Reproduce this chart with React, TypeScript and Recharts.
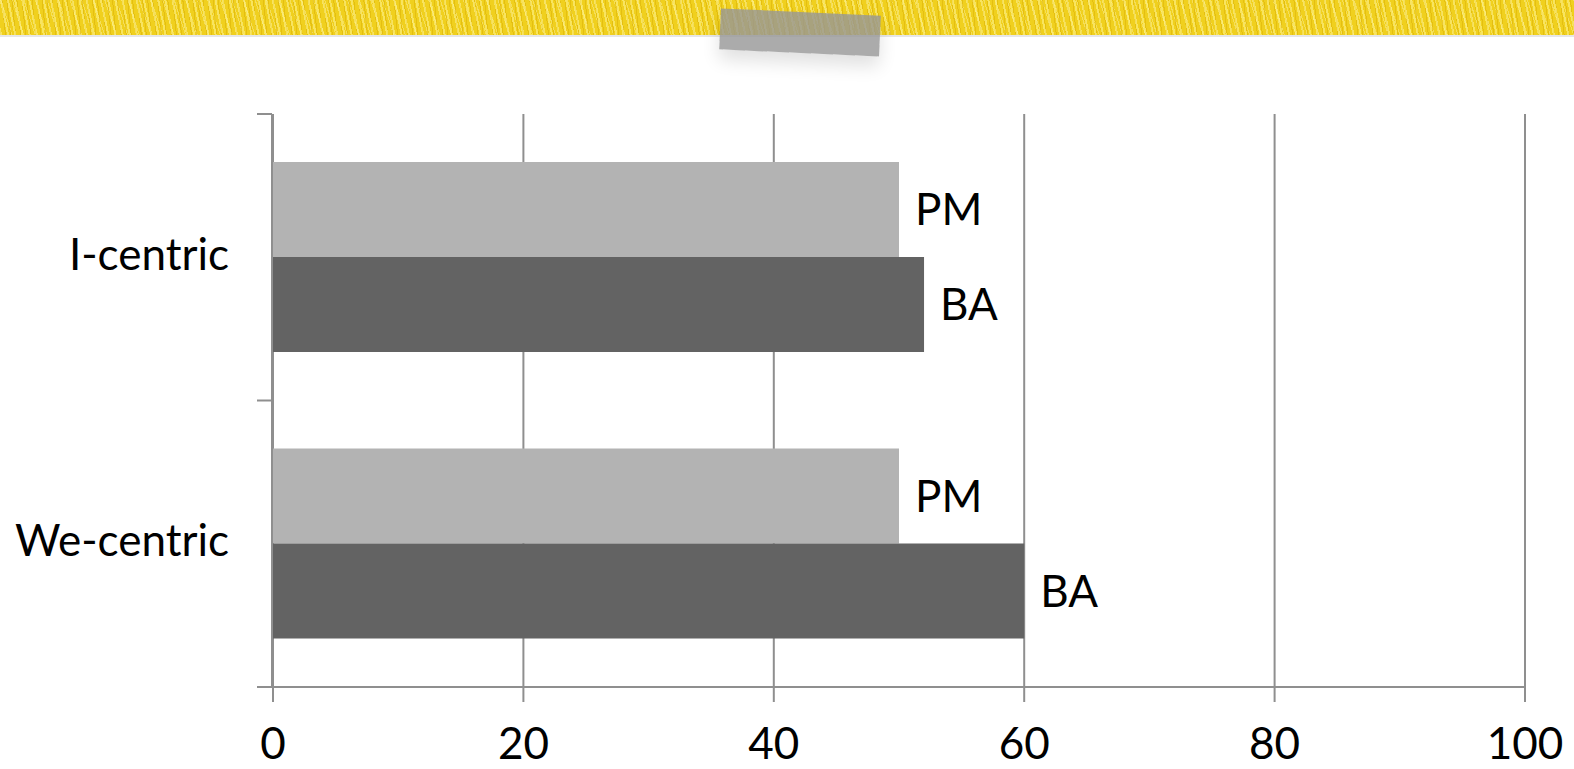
import React from "react";
import {
  BarChart,
  Bar,
  XAxis,
  YAxis,
  CartesianGrid,
  LabelList,
} from "recharts";

// Categories and series values
const categories = ["I-centric", "We-centric"];
const pmValues = [50, 50];
const baValues = [52, 60];
const xTicks = [0, 20, 40, 60, 80, 100];
// Band boundaries on the frame axis (top, between categories, bottom)
const frameTicks = [0, 0.5, 1];
const seriesNames = { pm: "PM", ba: "BA" };

const data = categories.map((name, i) => ({
  name,
  pm: pmValues[i],
  ba: baValues[i],
}));

const FONT = "Lato, 'Open Sans', sans-serif";
const GRID = "#8f8f8f";

const banner: React.CSSProperties = {
  position: "absolute",
  left: 0,
  top: 0,
  width: 1574,
  height: 35,
  backgroundColor: "#f0d01e",
  backgroundImage: [
    "repeating-linear-gradient(78deg, rgba(255,245,150,0.55) 0px, rgba(255,245,150,0.55) 2px, transparent 2px, transparent 7px)",
    "repeating-linear-gradient(84deg, rgba(214,170,0,0.45) 0px, rgba(214,170,0,0.45) 1px, transparent 1px, transparent 5px)",
    "repeating-linear-gradient(72deg, rgba(255,250,200,0.35) 0px, rgba(255,250,200,0.35) 1px, transparent 1px, transparent 11px)",
  ].join(","),
  borderBottom: "2px solid #e6e6e6",
};

const tape: React.CSSProperties = {
  position: "absolute",
  left: 720,
  top: 12,
  width: 160,
  height: 41,
  background: "rgba(150,150,150,0.8)",
  transform: "rotate(2.6deg)",
  boxShadow: "0 10px 18px rgba(0,0,0,0.12)",
};

// The frame axis only draws its line and the boundary tick marks
const EmptyTick = () => <g />;

export default function App() {
  return (
    <div
      style={{
        position: "fixed",
        left: 0,
        top: 0,
        width: 1574,
        height: 769,
        background: "#ffffff",
        overflow: "hidden",
      }}
    >
      <div style={banner} />
      <div style={tape} />
      <div style={{ position: "absolute", left: 0, top: 0 }}>
        <BarChart
          width={1574}
          height={769}
          data={data}
          layout="vertical"
          margin={{ top: 114, right: 49, bottom: 0, left: 271 }}
          barCategoryGap={48}
          barGap={0}
        >
          <CartesianGrid
            horizontal={false}
            vertical={true}
            stroke={GRID}
            strokeWidth={2}
            yAxisId="cat"
          />
          <XAxis
            type="number"
            domain={[0, 100]}
            ticks={xTicks}
            interval={0}
            height={82}
            tickSize={15}
            tickMargin={26}
            axisLine={{ stroke: GRID, strokeWidth: 2 }}
            tickLine={{ stroke: GRID, strokeWidth: 2 }}
            tick={{ fill: "#000", fontSize: 44, fontFamily: FONT }}
          />
          <YAxis
            yAxisId="cat"
            type="category"
            dataKey="name"
            width={1}
            axisLine={false}
            tickLine={false}
            tickSize={0}
            tickMargin={44}
            tick={{ fill: "#000", fontSize: 44, fontFamily: FONT, dy: -3 }}
          />
          <YAxis
            yAxisId="frame"
            type="number"
            domain={[0, 1]}
            ticks={frameTicks}
            interval={0}
            minTickGap={0}
            allowDataOverflow
            width={1}
            tickSize={15}
            tick={EmptyTick}
            axisLine={{ stroke: GRID, strokeWidth: 2 }}
            tickLine={{ stroke: GRID, strokeWidth: 2 }}
          />
          <Bar
            yAxisId="cat"
            dataKey="pm"
            name={seriesNames.pm}
            fill="#b3b3b3"
            isAnimationActive={false}
          >
            <LabelList
              dataKey="pm"
              position="right"
              offset={16}
              formatter={() => seriesNames.pm}
              fill="#000"
              fontSize={44}
              fontFamily={FONT}
            />
          </Bar>
          <Bar
            yAxisId="cat"
            dataKey="ba"
            name={seriesNames.ba}
            fill="#636363"
            isAnimationActive={false}
          >
            <LabelList
              dataKey="ba"
              position="right"
              offset={16}
              formatter={() => seriesNames.ba}
              fill="#000"
              fontSize={44}
              fontFamily={FONT}
            />
          </Bar>
        </BarChart>
      </div>
    </div>
  );
}
